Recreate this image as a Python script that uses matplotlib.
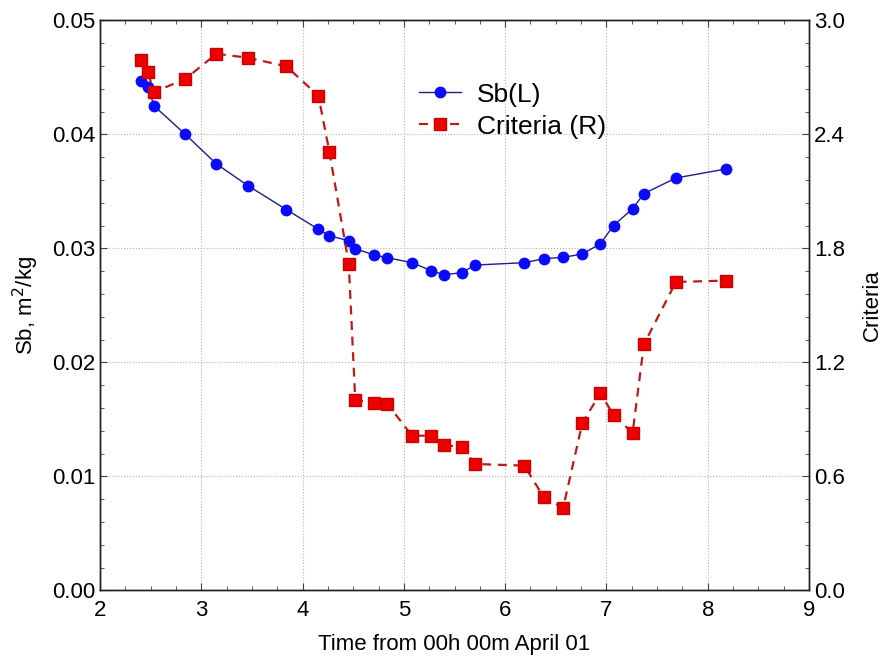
import matplotlib
matplotlib.use("Agg")
import matplotlib.pyplot as plt
from matplotlib.ticker import MultipleLocator, FormatStrFormatter

plt.rcParams['font.family'] = ['Liberation Sans', 'DejaVu Sans']

# time (hours from 00h 00m April 01), shared by both series
time_h = [2.405, 2.47, 2.536, 2.842, 3.15, 3.46, 3.84, 4.157, 4.265, 4.456,
          4.52, 4.71, 4.836, 5.08, 5.27, 5.396, 5.575, 5.70, 6.19, 6.382,
          6.573, 6.762, 6.94, 7.07, 7.258, 7.37, 7.686, 8.18]

# Sb, m2/kg (left axis)
sb = [0.04471, 0.04415, 0.04248, 0.0400, 0.0374, 0.0355, 0.0334, 0.03167,
      0.0311, 0.03067, 0.02997, 0.0294, 0.02918, 0.02874, 0.02804, 0.02769,
      0.02786, 0.02853, 0.02874, 0.02909, 0.02921, 0.0295, 0.0304, 0.0320,
      0.03347, 0.0348, 0.03617, 0.03696]

# Criteria (right axis)
criteria = [2.791, 2.726, 2.623, 2.691, 2.824, 2.803, 2.758, 2.602, 2.307,
            1.719, 1.002, 0.987, 0.982, 0.814, 0.814, 0.766, 0.753, 0.665,
            0.656, 0.489, 0.435, 0.881, 1.037, 0.923, 0.828, 1.295, 1.623,
            1.630]

fig = plt.figure(figsize=(8.84, 6.62), dpi=100)
ax = fig.add_axes([0.1131, 0.1083, 0.8021, 0.861])
ax2 = ax.twinx()

fs = 16

l1, = ax.plot(time_h, sb, '-', color="#1c1c8c", lw=1.0, marker='o',
              markersize=7.5, markerfacecolor="#0a0aff", markeredgecolor="#0a0aff",
              label="Sb(L)")
l2, = ax2.plot(time_h, criteria, '--', color="#c01818", lw=1.6, dashes=(4, 3),
               marker='s', markersize=8, markerfacecolor="#ee0000",
               markeredgecolor="#cc0000", label="Criteria (R)")

ax.set_xlim(2, 9)
ax.set_ylim(0, 0.05)
ax2.set_ylim(0, 3.0)

ax.xaxis.set_major_locator(MultipleLocator(1))
ax.xaxis.set_minor_locator(MultipleLocator(0.25))
ax.yaxis.set_major_locator(MultipleLocator(0.01))
ax.yaxis.set_minor_locator(MultipleLocator(0.002))
ax.yaxis.set_major_formatter(FormatStrFormatter('%.2f'))
ax2.yaxis.set_major_locator(MultipleLocator(0.6))
ax2.yaxis.set_minor_locator(MultipleLocator(0.12))
ax2.yaxis.set_major_formatter(FormatStrFormatter('%.1f'))

ax.grid(True, which='major', linestyle=':', color='#b4b4b4', lw=0.8)
ax.tick_params(axis='both', which='both', direction='in', labelsize=fs,
               top=True, right=False, color='#404040')
ax.tick_params(which='major', length=5)
ax.tick_params(which='minor', length=3)
ax.tick_params(axis='x', pad=7)
ax2.tick_params(axis='y', which='both', direction='in', labelsize=fs, color='#404040')
ax2.tick_params(which='major', length=5)
ax2.tick_params(which='minor', length=3)

ax.set_xlabel("Time from 00h 00m April 01", fontsize=fs, labelpad=9)
ax.set_ylabel("Sb, m$^2$/kg", fontsize=fs, labelpad=8)
ax2.set_ylabel("Criteria", fontsize=fs, labelpad=12)

for a in (ax, ax2):
    for s in a.spines.values():
        s.set_linewidth(1.0)
        s.set_color('#202020')

ax2.legend([l1, l2], ["Sb(L)", "Criteria (R)"], loc='upper left',
           bbox_to_anchor=(0.459, 0.895), bbox_transform=fig.transFigure,
           frameon=False, fontsize=19, handlelength=1.6, handletextpad=0.6,
           labelspacing=0.3, borderpad=0)

fig.savefig("out.png", dpi=100)
